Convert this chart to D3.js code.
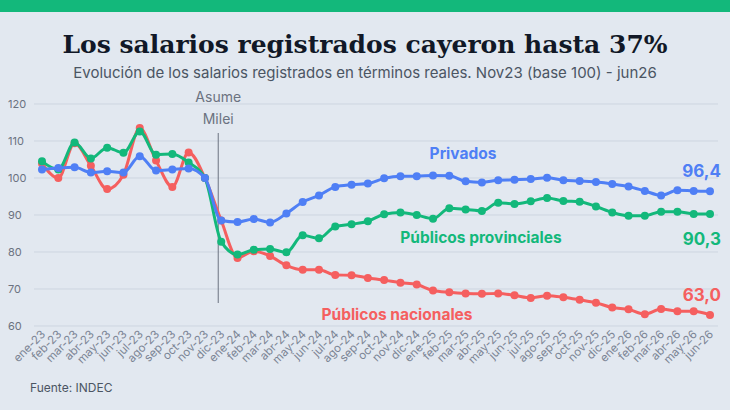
<!DOCTYPE html>
<html><head><meta charset="utf-8">
<script src="https://cdn.jsdelivr.net/npm/d3@7"></script>
<style>body{margin:0;background:#e2e8f0;font-family:Inter,"Noto Sans",sans-serif}</style>
</head><body><div id="chart"></div>
<script>
// Data: salarios reales, base nov23 = 100
var months = ["ene-23","feb-23","mar-23","abr-23","may-23","jun-23","jul-23","ago-23","sep-23","oct-23","nov-23","dic-23",
  "ene-24","feb-24","mar-24","abr-24","may-24","jun-24","jul-24","ago-24","sep-24","oct-24","nov-24","dic-24",
  "ene-25","feb-25","mar-25","abr-25","may-25","jun-25","jul-25","ago-25","sep-25","oct-25","nov-25","dic-25",
  "ene-26","feb-26","mar-26","abr-26","may-26","jun-26"];
var privados = [102.3,102.7,102.9,101.5,101.8,101.5,105.9,102.0,102.3,102.6,100.0,88.5,
  88.1,88.9,88.0,90.4,93.5,95.3,97.6,98.2,98.5,99.9,100.5,100.5,
  100.7,100.6,99.1,98.8,99.4,99.5,99.7,100.1,99.4,99.2,98.9,98.4,
  97.7,96.5,95.3,96.7,96.5,96.4];
var provinciales = [104.5,102.3,109.6,105.3,108.2,106.8,112.6,106.3,106.5,104.2,100.0,82.8,
  79.3,80.6,80.8,79.9,84.5,83.7,86.9,87.5,88.3,90.2,90.7,90.0,
  89.0,91.8,91.5,91.1,93.3,93.0,93.7,94.6,93.8,93.6,92.3,90.7,
  89.8,89.8,90.9,90.9,90.3,90.3];
var nacionales = [103.9,100.0,109.4,103.3,97.0,100.9,113.5,104.7,97.6,106.9,100.0,88.5,
  78.4,80.2,78.9,76.4,75.2,75.2,73.8,73.7,73.0,72.4,71.7,71.2,
  69.6,69.1,68.8,68.7,68.8,68.3,67.6,68.2,67.8,67.1,66.3,65.0,
  64.5,63.2,64.6,64.0,64.0,63.0];
var yTicks = [60,70,80,90,100,110,120];
var series = [
  {name:"Privados", values:privados, color:"#4f7ff5", label:[463,159], end:"96,4", endY:-14},
  {name:"Públicos provinciales", values:provinciales, color:"#13b87b", label:[481,243], end:"90,3", endY:31},
  {name:"Públicos nacionales", values:nacionales, color:"#f55f5f", label:[397,320], end:"63,0", endY:-14}
];

var W = 730, H = 410;
var svg = d3.select("#chart").append("svg").attr("width",W).attr("height",H);
svg.append("rect").attr("width",W).attr("height",H).attr("fill","#e2e8f0");
svg.append("rect").attr("width",W).attr("height",12).attr("fill","#13b87b");

svg.append("text").attr("x",W/2).attr("y",53).attr("text-anchor","middle")
  .style("font-family","'DejaVu Serif',serif").style("font-weight","bold").style("font-size","25px")
  .attr("fill","#111827").text("Los salarios registrados cayeron hasta 37%");
svg.append("text").attr("x",W/2).attr("y",78).attr("text-anchor","middle")
  .style("font-size","15px").attr("fill","#4b5563")
  .text("Evolución de los salarios registrados en términos reales. Nov23 (base 100) - jun26");

var x = d3.scalePoint().domain(months).range([42,710]);
var y = d3.scaleLinear().domain([60,120]).range([326,104]);

// grid + y labels
svg.selectAll(".grid").data(yTicks).enter().append("line")
  .attr("x1",34).attr("x2",718).attr("y1",d=>y(d)).attr("y2",d=>y(d))
  .attr("stroke","#cdd5e0").attr("stroke-width",1);
svg.selectAll(".yl").data(yTicks).enter().append("text")
  .attr("x",8).attr("y",d=>y(d)+4).style("font-size","11px").attr("fill","#6b7280").text(d=>d);

// x labels rotated
svg.selectAll(".xl").data(months).enter().append("text")
  .attr("transform",d=>"translate("+(x(d)+4)+",335) rotate(-45)")
  .attr("text-anchor","end").style("font-size","11.5px").attr("fill","#7b8494").text(d=>d);

// Milei marker
var xm = x("dic-23") - 3;
svg.append("line").attr("x1",xm).attr("x2",xm).attr("y1",133).attr("y2",303).attr("stroke","#6b7280").attr("stroke-width",1);
svg.append("text").attr("x",xm).attr("y",102).attr("text-anchor","middle").style("font-size","14px").attr("fill","#6b7280").text("Asume");
svg.append("text").attr("x",xm).attr("y",124).attr("text-anchor","middle").style("font-size","14px").attr("fill","#6b7280").text("Milei");

var line = d3.line().x((d,i)=>x(months[i])).y(d=>y(d)).curve(d3.curveMonotoneX);
series.slice().reverse().forEach(function(s){
  var g = svg.append("g");
  g.append("path").attr("d",line(s.values)).attr("fill","none").attr("stroke",s.color).attr("stroke-width",3);
  g.selectAll("circle").data(s.values).enter().append("circle")
    .attr("cx",(d,i)=>x(months[i])).attr("cy",d=>y(d)).attr("r",4).attr("fill",s.color);
  svg.append("text").attr("x",s.label[0]).attr("y",s.label[1]).attr("text-anchor","middle")
    .style("font-size","15.5px").style("font-weight","bold").attr("fill",s.color).text(s.name);
  var last = s.values[s.values.length-1];
  svg.append("text").attr("x",721).attr("y",y(last)+s.endY).attr("text-anchor","end")
    .style("font-size","17px").style("font-weight","bold").attr("fill",s.color).text(s.end);
});

svg.append("text").attr("x",30).attr("y",392).style("font-size","12px").attr("fill","#4b5563").text("Fuente: INDEC");
</script></body></html>
